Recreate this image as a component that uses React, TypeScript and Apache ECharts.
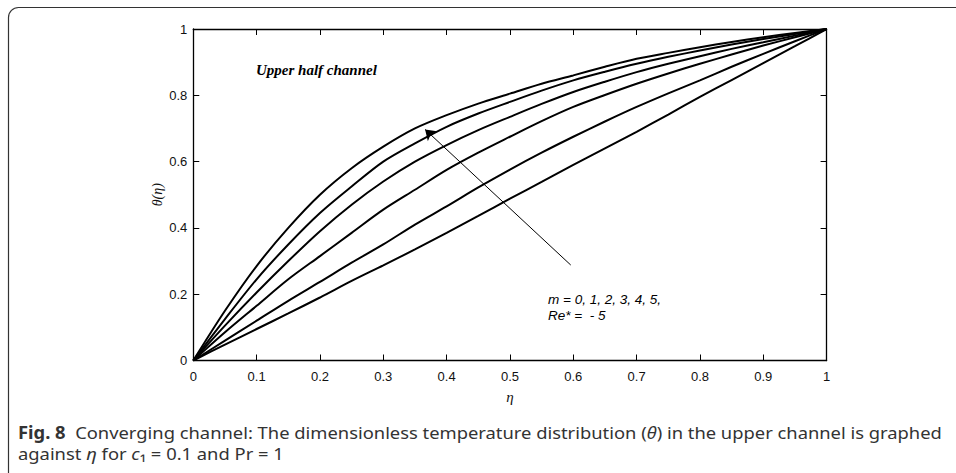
import React, { useEffect, useRef } from "react";
import * as echarts from "echarts";

const eta = [0, 0.05, 0.1, 0.15, 0.2, 0.25, 0.3, 0.35, 0.4, 0.45, 0.5, 0.55, 0.6, 0.65, 0.7, 0.75, 0.8, 0.85, 0.9, 0.95, 1];
const theta_m0 = [0, 0.048, 0.095, 0.142, 0.19, 0.24, 0.287, 0.335, 0.385, 0.436, 0.488, 0.539, 0.59, 0.64, 0.69, 0.742, 0.795, 0.846, 0.897, 0.948, 1];
const theta_m1 = [0, 0.06, 0.12, 0.18, 0.237, 0.295, 0.35, 0.41, 0.465, 0.522, 0.576, 0.627, 0.675, 0.721, 0.765, 0.806, 0.845, 0.886, 0.925, 0.963, 1];
const theta_m2 = [0, 0.085, 0.165, 0.245, 0.315, 0.385, 0.455, 0.515, 0.575, 0.627, 0.675, 0.722, 0.765, 0.801, 0.835, 0.866, 0.895, 0.923, 0.95, 0.975, 1];
const theta_m3 = [0, 0.105, 0.205, 0.3, 0.39, 0.47, 0.54, 0.6, 0.65, 0.695, 0.735, 0.774, 0.81, 0.841, 0.87, 0.895, 0.918, 0.94, 0.96, 0.98, 1];
const theta_m4 = [0, 0.125, 0.245, 0.35, 0.445, 0.525, 0.6, 0.655, 0.705, 0.745, 0.78, 0.814, 0.845, 0.871, 0.895, 0.916, 0.935, 0.953, 0.97, 0.985, 1];
const theta_m5 = [0, 0.15, 0.285, 0.4, 0.5, 0.58, 0.645, 0.7, 0.74, 0.775, 0.805, 0.835, 0.86, 0.886, 0.91, 0.928, 0.945, 0.961, 0.975, 0.988, 1];
const seriesNames = ["m = 0", "m = 1", "m = 2", "m = 3", "m = 4", "m = 5"];
const seriesValues = [theta_m0, theta_m1, theta_m2, theta_m3, theta_m4, theta_m5];

const arrowFrom = [0.596, 0.288];
const arrowTo = [0.366, 0.697];

const panelTitle = "Upper half channel";
const noteLine1 = "m = 0, 1, 2, 3, 4, 5,";
const noteLine2 = "Re* =  - 5";
const xName = "η";
const yName = "θ(η)";
const captionLine1 = "{b|Fig. 8}  Converging channel: The dimensionless temperature distribution ({i|θ}) in the upper channel is graphed";
const captionLine2 = "against {i|η} for {i|c}₁ = 0.1 and Pr = 1";

export default function App() {
  const ref = useRef<HTMLDivElement>(null);
  useEffect(() => {
    if (!ref.current) return;
    const chart = echarts.init(ref.current, null, { renderer: "svg" });
    const axisCommon = {
      type: "value" as const,
      min: 0,
      max: 1,
      axisLine: { show: true, onZero: false, lineStyle: { color: "#000", width: 1.3 } },
      axisTick: { show: true, inside: true, length: 6, lineStyle: { color: "#000", width: 1 } },
      splitLine: { show: false },
    };
    const labelStyle = {
      color: "#111",
      fontFamily: "Liberation Sans, Arial, sans-serif",
      fontSize: 13,
    };
    const series: any[] = seriesValues.map((vals, i) => ({
      name: seriesNames[i],
      type: "line",
      data: eta.map((x, j) => [x, vals[j]]),
      smooth: 0.3,
      showSymbol: false,
      lineStyle: { color: "#000", width: 2 },
      xAxisIndex: 0,
      yAxisIndex: 0,
    }));
    series[0].markLine = {
      silent: true,
      symbol: ["none", "arrow"],
      symbolSize: 10,
      label: { show: false },
      lineStyle: { color: "#000", width: 1, type: "solid" },
      data: [[{ coord: arrowFrom }, { coord: arrowTo }]],
    };
    const capFont = "Noto Sans, sans-serif";
    const capStyle = (text: string) => ({
      text,
      fontFamily: capFont,
      fontSize: 17,
      lineHeight: 18,
      fill: "#333",
      rich: {
        b: { fontFamily: capFont, fontWeight: "bold", fontSize: 17, fill: "#333", lineHeight: 18 },
        i: { fontFamily: capFont, fontStyle: "italic", fontSize: 17, fill: "#333", lineHeight: 18 },
      },
    });
    chart.setOption({
      animation: false,
      backgroundColor: "#fff",
      grid: { left: 193.3, right: 129.4, top: 29, bottom: 112.5, containLabel: false },
      xAxis: [
        {
          ...axisCommon,
          interval: 0.1,
          position: "bottom",
          axisLabel: { ...labelStyle, margin: 9 },
          name: xName,
          nameLocation: "middle",
          nameGap: 29,
          nameMoveOverlap: false,
          nameTextStyle: { fontFamily: "Liberation Serif, serif", fontStyle: "italic", fontSize: 15, color: "#111" },
        },
        {
          ...axisCommon,
          interval: 0.1,
          position: "top",
          axisLabel: { show: false },
        },
      ],
      yAxis: [
        {
          ...axisCommon,
          interval: 0.2,
          position: "left",
          axisLabel: { ...labelStyle, margin: 6 },
          name: yName,
          nameLocation: "middle",
          nameGap: 29,
          nameMoveOverlap: false,
          nameTextStyle: { fontFamily: "Liberation Serif, serif", fontStyle: "italic", fontSize: 14, color: "#111" },
        },
        {
          ...axisCommon,
          interval: 0.2,
          position: "right",
          axisLabel: { show: false },
        },
      ],
      series,
      graphic: [
        {
          type: "rect",
          shape: { x: 8.5, y: 7.5, width: 970, height: 500, r: 10 },
          style: { fill: "none", stroke: "#333", lineWidth: 1.2 },
          silent: true,
        },
        {
          type: "text",
          left: 256,
          top: 62,
          style: {
            text: panelTitle,
            fontFamily: "Liberation Serif, Times New Roman, serif",
            fontStyle: "italic",
            fontWeight: "bold",
            fontSize: 15,
            fill: "#000",
          },
        },
        {
          type: "text",
          left: 548,
          top: 291,
          style: {
            text: noteLine1 + "\n" + noteLine2,
            fontFamily: "Liberation Sans, Arial, sans-serif",
            fontStyle: "italic",
            fontSize: 13.5,
            lineHeight: 16,
            fill: "#000",
          },
        },
        {
          type: "text",
          x: 18,
          y: 423,
          scaleX: 1.08,
          style: capStyle(captionLine1),
        },
        {
          type: "text",
          x: 18,
          y: 444,
          scaleX: 1.08,
          style: capStyle(captionLine2),
        },
      ],
    });
    return () => chart.dispose();
  }, []);
  return (
    <div
      ref={ref}
      style={{ position: "absolute", left: 0, top: 0, width: 956, height: 473, background: "#fff" }}
    />
  );
}
